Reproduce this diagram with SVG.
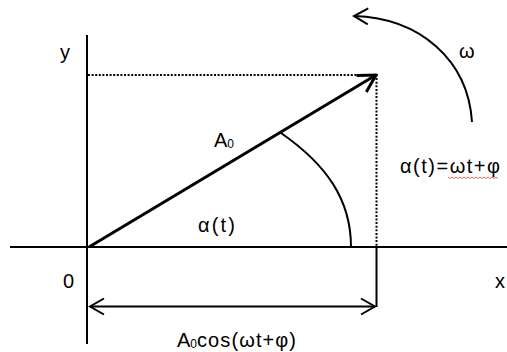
<svg xmlns="http://www.w3.org/2000/svg" width="507" height="352" viewBox="0 0 507 352">
  <style>
    text { font-family: "Liberation Sans", Arial, sans-serif; fill: #000; }
    .lbl { font-size: 20px; }
    .ax { stroke: #000; stroke-width: 2; fill: none; }
    .dot { stroke: #000; stroke-width: 2; stroke-dasharray: 2 1.6; fill: none; }
    .ln { stroke: #000; stroke-width: 2; fill: none; }
  </style>
  <defs>
    <marker id="open" markerUnits="userSpaceOnUse" viewBox="-16 -10 18 20" refX="0" refY="0" markerWidth="18" markerHeight="20" orient="auto-start-reverse">
      <path d="M-14,-8 L0,0 L-14,8" fill="none" stroke="#000" stroke-width="2"/>
    </marker>
    <marker id="bigopen" markerUnits="userSpaceOnUse" viewBox="-20 -12 22 24" refX="0" refY="0" markerWidth="22" markerHeight="24" orient="auto">
      <path d="M-17,-9.5 L0,0 L-17,9.5" fill="none" stroke="#000" stroke-width="3"/>
    </marker>
  </defs>

  <g id="axes">
    <line class="ax" x1="10" y1="247" x2="507" y2="247"/>
    <line class="ax" x1="87" y1="35" x2="87" y2="344"/>
  </g>

  <g id="connectors">
    <path class="dot" d="M88,75 H376.5 V247"/>
    <line class="ln" x1="376.5" y1="247" x2="376.5" y2="307"/>
    <line class="ln" x1="90" y1="306.5" x2="375" y2="306.5" marker-start="url(#open)" marker-end="url(#open)"/>
    <line stroke="#000" stroke-width="3" x1="89" y1="247" x2="376" y2="75" marker-end="url(#bigopen)"/>
    <path class="ln" d="M281,133 C327,165 351,200 351,247"/>
    <path class="ln" d="M472,122 C468,60 420,18 354,16" marker-end="url(#open)"/>
  </g>

  <g id="labels">
    <text class="lbl" x="60" y="59">y</text>
    <text class="lbl" x="63" y="288">0</text>
    <text class="lbl" x="495" y="288">x</text>
    <text class="lbl" x="459" y="58">ω</text>
    <text class="lbl" x="214" y="147">A<tspan font-size="12" dy="1">0</tspan></text>
    <text class="lbl" x="198" y="232" textLength="37" lengthAdjust="spacing">α(t)</text>
    <text class="lbl" x="400" y="173" textLength="100" lengthAdjust="spacing">α(t)=ωt+φ</text>
    <text class="lbl" x="177" y="347">A<tspan font-size="12" dy="1">0</tspan><tspan dy="-1" textLength="99" lengthAdjust="spacing">cos(ωt+φ)</tspan></text>
    <path d="M448,177 l2,1.5 l2,-1.5 l2,1.5 l2,-1.5 l2,1.5 l2,-1.5 l2,1.5 l2,-1.5 l2,1.5 l2,-1.5 l2,1.5 l2,-1.5 l2,1.5 l2,-1.5 l2,1.5 l2,-1.5 l2,1.5 l2,-1.5 l2,1.5 l2,-1.5 l2,1.5 l2,-1.5 l2,1.5 l2,-1.5 l2,1.5" fill="none" stroke="#e04040" stroke-width="0.8"/>
  </g>
</svg>
